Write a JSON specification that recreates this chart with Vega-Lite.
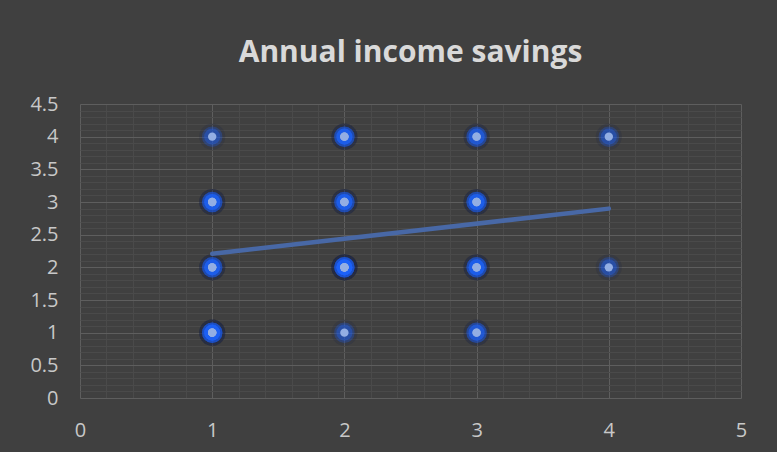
{
  "$schema": "https://vega.github.io/schema/vega-lite/v6.json",
  "width": 661,
  "height": 294,
  "autosize": {"type": "none"},
  "padding": {"left": 80, "top": 104, "right": 36, "bottom": 54},
  "background": "#404040",
  "title": {
    "text": "Annual income savings",
    "font": "Open Sans",
    "fontSize": 30,
    "fontWeight": "bold",
    "color": "#d9d9d9",
    "anchor": "middle",
    "baseline": "alphabetic",
    "offset": 2
  },
  "config": {
    "view": {"stroke": null},
    "axis": {
      "domain": false,
      "ticks": false,
      "labelFont": "Open Sans",
      "labelFontSize": 20,
      "labelColor": "#c8c8c8",
      "labelPadding": 22,
      "labelOverlap": false,
      "labelFlush": false,
      "gridWidth": 1,
      "title": null
    }
  },
  "data": {
    "values": [
      {"x": 1, "y": 1}, {"x": 1, "y": 1}, {"x": 1, "y": 1}, {"x": 1, "y": 1},
      {"x": 1, "y": 2}, {"x": 1, "y": 2}, {"x": 1, "y": 2},
      {"x": 1, "y": 3}, {"x": 1, "y": 3}, {"x": 1, "y": 3},
      {"x": 1, "y": 4},
      {"x": 2, "y": 1},
      {"x": 2, "y": 2}, {"x": 2, "y": 2}, {"x": 2, "y": 2}, {"x": 2, "y": 2}, {"x": 2, "y": 2},
      {"x": 2, "y": 3}, {"x": 2, "y": 3}, {"x": 2, "y": 3},
      {"x": 2, "y": 4}, {"x": 2, "y": 4}, {"x": 2, "y": 4},
      {"x": 3, "y": 1}, {"x": 3, "y": 1},
      {"x": 3, "y": 2}, {"x": 3, "y": 2}, {"x": 3, "y": 2},
      {"x": 3, "y": 3}, {"x": 3, "y": 3}, {"x": 3, "y": 3},
      {"x": 3, "y": 4}, {"x": 3, "y": 4},
      {"x": 4, "y": 2},
      {"x": 4, "y": 4}
    ]
  },
  "encoding": {
    "x": {
      "field": "x",
      "type": "quantitative",
      "scale": {"domain": [0, 5], "nice": false, "zero": false},
      "axis": {
        "values": [0, 0.2, 0.4, 0.6, 0.8, 1, 1.2, 1.4, 1.6, 1.8, 2, 2.2, 2.4, 2.6, 2.8, 3, 3.2, 3.4, 3.6, 3.8, 4, 4.2, 4.4, 4.6, 4.8, 5],
        "labelExpr": "datum.value == round(datum.value) ? '' + datum.value : ''",
        "gridColor": {"condition": {"test": "datum.value == round(datum.value)", "value": "#5e5e5e"}, "value": "#4a4a4a"}
      }
    },
    "y": {
      "field": "y",
      "type": "quantitative",
      "scale": {"domain": [0, 4.5], "nice": false, "zero": false},
      "axis": {
        "values": [0, 0.1, 0.2, 0.3, 0.4, 0.5, 0.6, 0.7, 0.8, 0.9, 1, 1.1, 1.2, 1.3, 1.4, 1.5, 1.6, 1.7, 1.8, 1.9, 2, 2.1, 2.2, 2.3, 2.4, 2.5, 2.6, 2.7, 2.8, 2.9, 3, 3.1, 3.2, 3.3, 3.4, 3.5, 3.6, 3.7, 3.8, 3.9, 4, 4.1, 4.2, 4.3, 4.4, 4.5],
        "labelExpr": "datum.value * 2 == round(datum.value * 2) ? '' + datum.value : ''",
        "gridColor": {"condition": {"test": "datum.value * 2 == round(datum.value * 2)", "value": "#5e5e5e"}, "value": "#4a4a4a"}
      }
    }
  },
  "layer": [
    {"mark": {"type": "circle", "size": 680, "color": "#1a2448", "opacity": 0.2}},
    {"mark": {"type": "circle", "size": 420, "color": "#1c58e8", "opacity": 0.3}},
    {"mark": {"type": "circle", "size": 260, "color": "#1e64ff", "opacity": 0.35}},
    {"mark": {"type": "circle", "size": 70, "color": "#93aee3", "opacity": 1}},
    {
      "transform": [{"regression": "y", "on": "x"}],
      "mark": {"type": "line", "color": "#4868a6", "strokeWidth": 4.5, "strokeCap": "round"}
    }
  ]
}
